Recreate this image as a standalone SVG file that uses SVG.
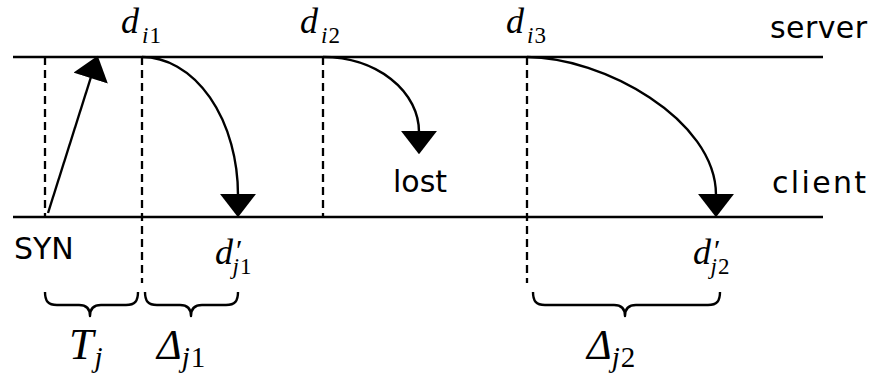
<svg xmlns="http://www.w3.org/2000/svg" width="872" height="377" viewBox="0 0 872 377">
<style>
.tl{stroke:#000;stroke-width:2.6;fill:none}
.dash{stroke:#000;stroke-width:2.3;stroke-dasharray:8,5;fill:none}
.arr{stroke:#000;stroke-width:2.4;fill:none;marker-end:url(#ah)}
.brace{stroke:#000;stroke-width:2.4;fill:none;stroke-linejoin:round}
.lbl{font-family:"DejaVu Sans","Liberation Sans",sans-serif;font-size:30px;fill:#000}
.m{font-family:"Liberation Serif","DejaVu Serif",serif;font-style:italic;fill:#000}
.u{font-style:normal}
</style>
<defs>
<marker id="ah" markerUnits="userSpaceOnUse" markerWidth="24" markerHeight="36" viewBox="0 0 22 34" refX="1" refY="17" orient="auto">
<path d="M0,0 L22,17 L0,34 z" fill="#000"/>
</marker>
</defs>
<g id="server">
<line class="tl" x1="13" y1="57" x2="823" y2="57"/>
<text class="lbl" x="770" y="38" textLength="97" lengthAdjust="spacing">server</text>
</g>
<g id="client">
<line class="tl" x1="13" y1="217" x2="823" y2="217"/>
<text class="lbl" x="772" y="193" textLength="94" lengthAdjust="spacing">client</text>
</g>
<g id="syn">
<text class="lbl" x="14" y="259">SYN</text>
</g>
<g id="lost">
<text class="lbl" x="393" y="192">lost</text>
</g>
<g id="d_i1">
<text class="m" x="121" y="33" font-size="36">d<tspan font-size="23" dx="3" dy="10">i</tspan><tspan class="u" font-size="23" dx="1">1</tspan></text>
</g>
<g id="d_i2">
<text class="m" x="300" y="33" font-size="36">d<tspan font-size="23" dx="3" dy="10">i</tspan><tspan class="u" font-size="23" dx="1">2</tspan></text>
</g>
<g id="d_i3">
<text class="m" x="506" y="33" font-size="36">d<tspan font-size="23" dx="3" dy="10">i</tspan><tspan class="u" font-size="23" dx="1">3</tspan></text>
</g>
<g id="d_j1">
<text class="m" x="215" y="264" font-size="36">d<tspan class="u" font-size="30" dx="3" dy="-4">′</tspan><tspan font-size="23" dx="-10" dy="14">j</tspan><tspan class="u" font-size="23" dx="1">1</tspan></text>
</g>
<g id="d_j2">
<text class="m" x="693" y="264" font-size="36">d<tspan class="u" font-size="30" dx="3" dy="-4">′</tspan><tspan font-size="23" dx="-10" dy="14">j</tspan><tspan class="u" font-size="23" dx="1">2</tspan></text>
</g>
<g id="T_j">
<path class="brace" d="M45,292 C45,301 48,305 57,305 L79,305 C86,305 90,308 90,316 C90,308 94,305 101,305 L126,305 C135,305 138,301 138,292"/>
<text class="m" x="69" y="359" font-size="44">T<tspan font-size="29" dx="1" dy="8">j</tspan></text>
</g>
<g id="Delta_j1">
<path class="brace" d="M145,292 C145,301 148,305 157,305 L180,305 C187,305 191,308 191,316 C191,308 195,305 202,305 L226,305 C235,305 238,301 238,292"/>
<text class="m" x="157" y="359" font-size="42">Δ<tspan font-size="29" dx="0" dy="8">j</tspan><tspan class="u" font-size="29" dx="1">1</tspan></text>
</g>
<g id="Delta_j2">
<path class="brace" d="M533,292 C533,301 536,305 545,305 L614,305 C621,305 625,308 625,316 C625,308 629,305 636,305 L708,305 C717,305 720,301 720,292"/>
<text class="m" x="587" y="359" font-size="42">Δ<tspan font-size="29" dx="0" dy="8">j</tspan><tspan class="u" font-size="29" dx="1">2</tspan></text>
</g>
<g id="connectors">
<line class="dash" x1="45" y1="57" x2="45" y2="217"/>
<line class="dash" x1="142" y1="57" x2="142" y2="283"/>
<line class="dash" x1="323" y1="57" x2="323" y2="217"/>
<line class="dash" x1="527" y1="57" x2="527" y2="283"/>
<path class="arr" d="M48,213 L91,77"/>
<path class="arr" d="M142,57 A96,138 0 0 1 238,195"/>
<path class="arr" d="M323,57 A96,75 0 0 1 419,132"/>
<path class="arr" d="M527,57 C602,57 716,119 716,195"/>
</g>
</svg>
